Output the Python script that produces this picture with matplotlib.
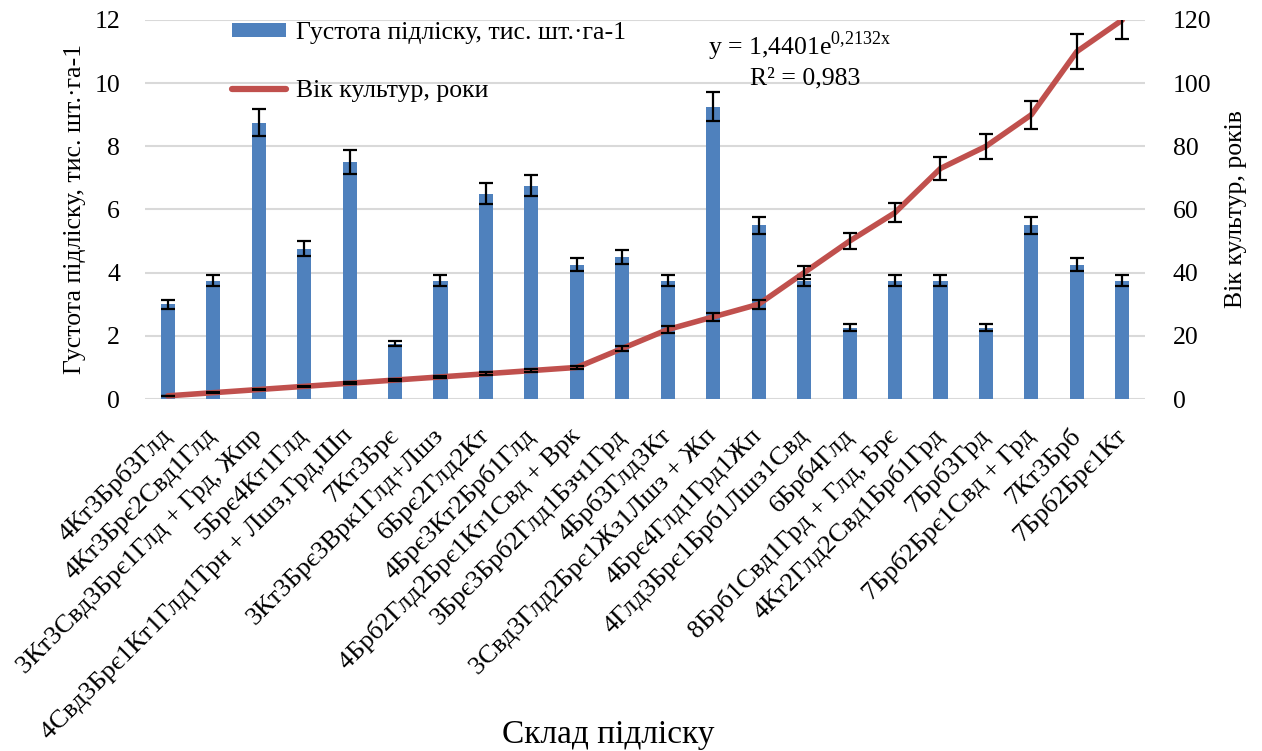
import matplotlib
matplotlib.use("Agg")
import matplotlib.pyplot as plt
import numpy as np
from matplotlib.lines import Line2D
from matplotlib.patches import Patch

plt.rcParams['font.family'] = ['Liberation Serif', 'DejaVu Serif']

categories = [
    "4Кт3Брб3Глд",
    "4Кт3Брє2Свд1Глд",
    "3Кт3Свд3Брє1Глд + Грд, Жпр",
    "5Брє4Кт1Глд",
    "4Свд3Брє1Кт1Глд1Трн + Лшз,Грд,Шп",
    "7Кт3Брє",
    "3Кт3Брє3Врк1Глд+Лшз",
    "6Брє2Глд2Кт",
    "4Брє3Кт2Брб1Глд",
    "4Брб2Глд2Брє1Кт1Свд + Врк",
    "3Брє3Брб2Глд1Бзч1Грд",
    "4Брб3Глд3Кт",
    "3Свд3Глд2Брє1Жз1Лшз + Жп",
    "4Брє4Глд1Грд1Жп",
    "4Глд3Брє1Брб1Лшз1Свд",
    "6Брб4Глд",
    "8Брб1Свд1Грд + Глд, Брє",
    "4Кт2Глд2Свд1Брб1Грд",
    "7Брб3Грд",
    "7Брб2Брє1Свд + Грд",
    "7Кт3Брб",
    "7Брб2Брє1Кт",
]

density = [3.0, 3.75, 8.75, 4.75, 7.5, 1.75, 3.75, 6.5, 6.75, 4.25, 4.5,
           3.75, 9.25, 5.5, 3.75, 2.25, 3.75, 3.75, 2.25, 5.5, 4.25, 3.75]
age = [1, 2, 3, 4, 5, 6, 7, 8, 9, 10, 16, 22, 26, 30, 40, 50, 59, 73, 80,
       90, 110, 120]
err_share = 0.05  # 5 % error bars

left_ticks = [0, 2, 4, 6, 8, 10, 12]
right_ticks = [0, 20, 40, 60, 80, 100, 120]

bar_color = "#4F81BD"
line_color = "#C0504D"
grid_color = "#D9D9D9"

fig = plt.figure(figsize=(12.62, 7.51), dpi=100)
ax = fig.add_axes([0.1149, 0.4687, 0.7924, 0.5047])
ax2 = ax.twinx()

x = np.arange(len(categories))
dens = np.array(density)
ages = np.array(age)

ax.bar(x, dens, width=0.31, color=bar_color, zorder=2,
       yerr=dens * err_share,
       error_kw=dict(ecolor="black", elinewidth=1.6, capsize=5, capthick=1.6))
ax2.plot(x, ages, color=line_color, lw=4.0, solid_capstyle="round", zorder=3)
ax2.errorbar(x, ages, yerr=ages * err_share, fmt="none", ecolor="black",
             elinewidth=1.6, capsize=5, capthick=1.6, zorder=4)

ax.set_xlim(-0.5, len(categories) - 0.5)
ax.set_ylim(0, 12)
ax2.set_ylim(0, 120)
ax.set_yticks(left_ticks)
ax2.set_yticks(right_ticks)

for a in (ax, ax2):
    for s in a.spines.values():
        s.set_visible(False)
    a.tick_params(length=0)

ax.yaxis.grid(True, color=grid_color, lw=1.5, zorder=0)
ax.set_axisbelow(True)

ax.tick_params(axis="y", labelsize=18.5, pad=18)
ax2.tick_params(axis="y", labelsize=18.5, pad=20)

ax.set_xticks(x)
ax.set_xticklabels(categories, rotation=45, ha="right", va="center",
                   rotation_mode="anchor", fontsize=19)
ax.tick_params(axis="x", pad=24)

ax.set_ylabel("Густота підліску, тис. шт.·га-1", fontsize=18.5, labelpad=6)
ax2.set_ylabel("Вік культур, років", fontsize=18.5, labelpad=10)
fig.text(0.482, 0.022, "Склад підліску", fontsize=24, ha="center", va="center")

ax2.text(0.655, 0.93, r"y = 1,4401e$^{\mathregular{0{,}2132x}}$", transform=ax.transAxes,
         fontsize=18.5, ha="center", va="center")
ax2.text(0.66, 0.845, "R² = 0,983", transform=ax.transAxes,
         fontsize=18.5, ha="center", va="center")

handles = [Patch(facecolor=bar_color, edgecolor="none"),
           Line2D([0], [0], color=line_color, lw=4.5, solid_capstyle="round")]
labels = ["Густота підліску, тис. шт.·га-1", "Вік культур, роки"]
ax2.legend(handles, labels, loc="upper left", bbox_to_anchor=(0.064, 1.055),
           frameon=False, fontsize=18.5, labelspacing=1.4, handlelength=2.1,
           handleheight=0.5, handletextpad=0.4)

fig.savefig("out.png", dpi=100)
